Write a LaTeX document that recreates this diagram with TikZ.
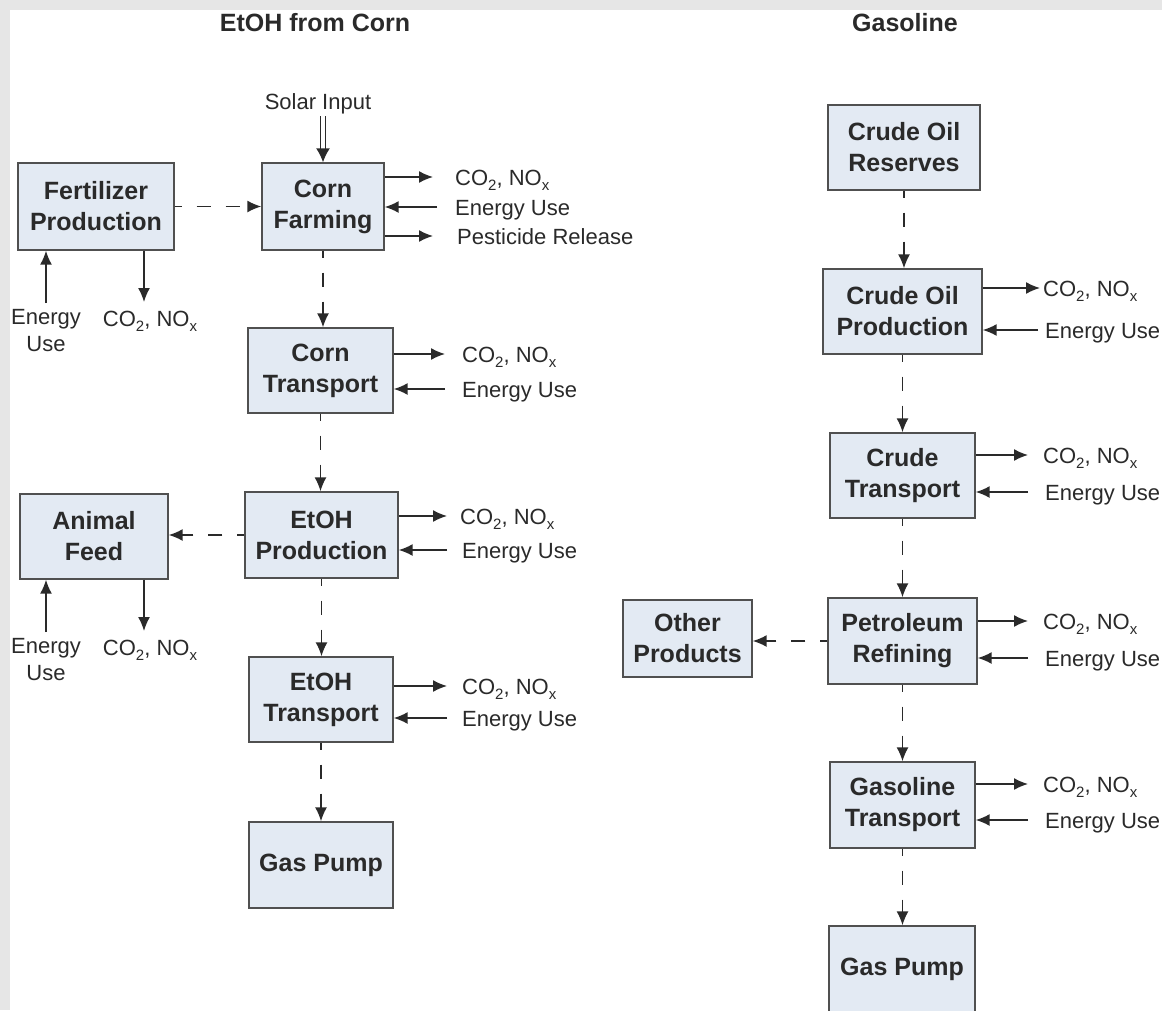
\documentclass[tikz,border=0pt]{standalone}
\usepackage{fontspec}
\setmainfont{Liberation Sans}
\usetikzlibrary{arrows.meta}
\definecolor{boxfill}{HTML}{E3EAF3}
\definecolor{edge}{HTML}{505050}
\definecolor{ink}{HTML}{2A2A2A}
\definecolor{bggray}{HTML}{E6E6E6}
\newcommand\lowsub[1]{\raisebox{-0.45ex}{\fontsize{15}{15}\selectfont #1}}
\newcommand\emis{CO\lowsub{2}, NO\lowsub{x}}
\begin{document}
\begin{tikzpicture}[x=1pt,y=-1pt,
  box/.style={draw=edge, fill=boxfill, line width=1.4pt, align=center,
    font=\fontsize{25}{31}\selectfont\bfseries, text=ink, inner sep=0pt},
  lbl/.style={font=\fontsize{22}{27}\selectfont, text=ink, inner sep=0pt,
    text height=16pt, text depth=0pt, anchor=west},
  ttl/.style={font=\fontsize{25}{30}\selectfont\bfseries, text=ink, inner sep=0pt},
  arr/.style={draw=ink, line width=1.5pt, -{Latex[length=14pt,width=12pt]}},
  dash arr/.style={arr, dash pattern=on 14pt off 15pt, dash phase=7pt}]
\useasboundingbox (0,0) rectangle (1173,1010);
\fill[bggray] (0,0) rectangle (1173,1010);
\fill[white] (10,10) rectangle (1173,1010);
\fill[white] (1162,0) rectangle (1173,10);

% titles
\node[ttl] (t1) at (315,23) {EtOH from Corn};
\node[ttl] (t2) at (905,23) {Gasoline};

% left column boxes
\node[box, minimum width=156pt, minimum height=87pt] (fert) at (96,206.5) {Fertilizer\\Production};
\node[box, minimum width=122pt, minimum height=87pt] (cornfarm) at (323,206.5) {Corn\\Farming};
\node[box, minimum width=145pt, minimum height=85pt] (corntrans) at (320.5,370.5) {Corn\\Transport};
\node[box, minimum width=153pt, minimum height=86pt] (etohprod) at (321.5,535) {EtOH\\Production};
\node[box, minimum width=148pt, minimum height=85pt] (feed) at (94,536.5) {Animal\\Feed};
\node[box, minimum width=144pt, minimum height=85pt] (etohtrans) at (321,699.5) {EtOH\\Transport};
\node[box, minimum width=144pt, minimum height=86pt] (pumpL) at (321,865) {Gas Pump};

% right column boxes
\node[box, minimum width=152pt, minimum height=85pt] (reserves) at (904,147.5) {Crude Oil\\Reserves};
\node[box, minimum width=159pt, minimum height=85pt] (crudeprod) at (902.5,311.5) {Crude Oil\\Production};
\node[box, minimum width=145pt, minimum height=85pt] (crudetrans) at (902.5,475.5) {Crude\\Transport};
\node[box, minimum width=149pt, minimum height=86pt] (refining) at (902.5,641) {Petroleum\\Refining};
\node[box, minimum width=129pt, minimum height=77pt] (other) at (687.5,638.5) {Other\\Products};
\node[box, minimum width=145pt, minimum height=86pt] (gastrans) at (902.5,805) {Gasoline\\Transport};
\node[box, minimum width=146pt, minimum height=86pt] (pumpR) at (902,969) {Gas Pump};

% solar input
\node[lbl, anchor=center] (solar) at (318,101) {Solar Input};
\draw[draw=ink, line width=1.4pt, double=white, double distance=4pt,
  -{Latex[length=14pt,width=14pt]}, shorten <=7pt]
  (cornfarm.north |- solar.south) -- (cornfarm.north);

% corn farming outputs
\node[lbl] (cfco) at (455,177) {\emis};
\node[lbl] (cfeu) at (455,207) {Energy Use};
\node[lbl] (cfpe) at (457,236) {Pesticide Release};
\draw[arr, shorten >=22pt] (cornfarm.east |- cfco) -- (cfco);
\draw[arr, shorten <=18pt] (cfeu) -- (cornfarm.east |- cfeu);
\draw[arr, shorten >=24pt] (cornfarm.east |- cfpe) -- (cfpe);

% fertilizer
\node[font=\fontsize{22}{27}\selectfont, text=ink, inner sep=0pt, align=center, anchor=north] (feu) at (46,309) {Energy\\Use};
\node[lbl, anchor=north] (fco) at (150,310) {\emis};
\coordinate (fcotop) at ([xshift=-6pt]fco.north);
\draw[arr, shorten <=6pt] (feu.north) -- (feu.north |- fert.south);
\draw[arr, shorten >=8pt] (fert.south -| fcotop) -- (fcotop);

% animal feed
\node[font=\fontsize{22}{27}\selectfont, text=ink, inner sep=0pt, align=center, anchor=north] (aeu) at (46,638) {Energy\\Use};
\node[lbl, anchor=north] (aco) at (150,639) {\emis};
\coordinate (acotop) at ([xshift=-6pt]aco.north);
\draw[arr, shorten <=6pt] (aeu.north) -- (aeu.north |- feed.south);
\draw[arr, shorten >=8pt] (feed.south -| acotop) -- (acotop);

% corn transport
\node[lbl] (ctco) at (462,354) {\emis};
\node[lbl] (cteu) at (462,389) {Energy Use};
\draw[arr, shorten >=17pt] (corntrans.east |- ctco) -- (ctco);
\draw[arr, shorten <=17pt] (cteu) -- (corntrans.east |- cteu);

% etoh production
\node[lbl] (epco) at (460,516) {\emis};
\node[lbl] (epeu) at (462,550) {Energy Use};
\draw[arr, shorten >=13pt] (etohprod.east |- epco) -- (epco);
\draw[arr, shorten <=15pt] (epeu) -- (etohprod.east |- epeu);

% etoh transport
\node[lbl] (etco) at (462,686) {\emis};
\node[lbl] (eteu) at (462,718) {Energy Use};
\draw[arr, shorten >=15pt] (etohtrans.east |- etco) -- (etco);
\draw[arr, shorten <=15pt] (eteu) -- (etohtrans.east |- eteu);

% crude oil production
\node[lbl] (cpco) at (1043,288) {\emis};
\node[lbl] (cpeu) at (1045,330) {Energy Use};
\draw[arr, shorten >=3pt] (crudeprod.east |- cpco) -- (cpco);
\draw[arr, shorten <=7pt] (cpeu) -- (crudeprod.east |- cpeu);

% crude transport
\node[lbl] (crco) at (1043,455) {\emis};
\node[lbl] (creu) at (1045,492) {Energy Use};
\draw[arr, shorten >=15pt] (crudetrans.east |- crco) -- (crco);
\draw[arr, shorten <=17pt] (creu) -- (crudetrans.east |- creu);

% petroleum refining
\node[lbl] (prco) at (1043,621) {\emis};
\node[lbl] (preu) at (1045,658) {Energy Use};
\draw[arr, shorten >=15pt] (refining.east |- prco) -- (prco);
\draw[arr, shorten <=17pt] (preu) -- (refining.east |- preu);

% gasoline transport
\node[lbl] (gtco) at (1043,784) {\emis};
\node[lbl] (gteu) at (1045,820) {Energy Use};
\draw[arr, shorten >=15pt] (gastrans.east |- gtco) -- (gtco);
\draw[arr, shorten <=17pt] (gteu) -- (gastrans.east |- gteu);

% dashed flows, left
\draw[dash arr] (fert) -- (cornfarm);
\draw[dash arr] (cornfarm.south) -- (cornfarm.south |- corntrans.north);
\draw[dash arr] (corntrans.south) -- (corntrans.south |- etohprod.north);
\draw[dash arr] (etohprod.west) -- (feed.east |- etohprod.west);
\draw[dash arr] (etohprod.south) -- (etohprod.south |- etohtrans.north);
\draw[dash arr] (etohtrans.south) -- (etohtrans.south |- pumpL.north);

% dashed flows, right
\draw[dash arr] (reserves.south) -- (reserves.south |- crudeprod.north);
\draw[dash arr] (crudeprod.south) -- (crudeprod.south |- crudetrans.north);
\draw[dash arr] (crudetrans.south) -- (crudetrans.south |- refining.north);
\draw[dash arr] (refining.west) -- (other.east |- refining.west);
\draw[dash arr] (refining.south) -- (refining.south |- gastrans.north);
\draw[dash arr] (gastrans.south) -- (gastrans.south |- pumpR.north);
\end{tikzpicture}
\end{document}
